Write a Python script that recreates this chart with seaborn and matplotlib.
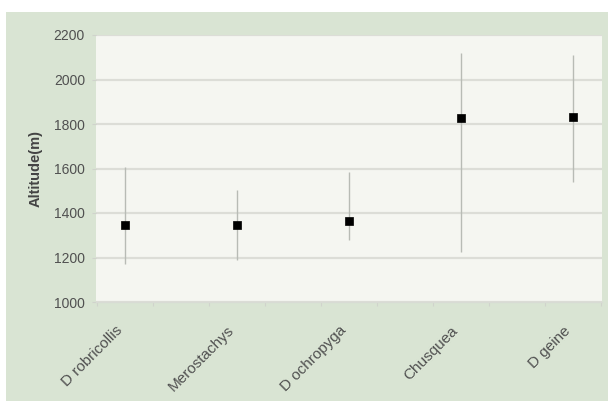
import matplotlib
matplotlib.use("Agg")
import matplotlib.pyplot as plt
import matplotlib.patches as mpatches
import seaborn as sns
import pandas as pd
import numpy as np

# Altitude ranges of the bamboo species and their mean altitude
species = ["D robricollis", "Merostachys", "D ochropyga", "Chusquea", "D geine"]
altitude_mean = [1345, 1345, 1365, 1825, 1830]
altitude_low = [1170, 1190, 1280, 1225, 1540]
altitude_high = [1605, 1505, 1585, 2120, 2110]
y_ticks = [1000, 1200, 1400, 1600, 1800, 2000, 2200]

df = pd.DataFrame({"species": species, "mean": altitude_mean,
                   "low": altitude_low, "high": altitude_high})

sns.set_theme(style="white")
plt.rcParams["font.family"] = ["Liberation Sans", "DejaVu Sans"]

W, H = 608, 401
fig = plt.figure(figsize=(W / 100, H / 100), dpi=100, facecolor="white")

# green chart panel behind the plot area
panel = mpatches.Rectangle((6 / W, 0), 1 - 6 / W, 1 - 12 / H,
                           transform=fig.transFigure, facecolor="#d9e4d3",
                           edgecolor="none", zorder=-10)
fig.patches.append(panel)

ax = fig.add_axes([96 / W, 99 / H, (602 - 96) / W, (302 - 35) / H])
ax.set_facecolor("#f5f6f1")

pos = np.arange(len(species))
ax.vlines(pos, df["low"], df["high"], color="#b8bbb5", linewidth=1.0, zorder=2)
sns.scatterplot(data=df, x="species", y="mean", marker="s", color="black",
                s=30, edgecolor="black", linewidth=0.5, ax=ax, zorder=3)

ax.set_ylim(1000, 2200)
ax.set_xlim(-0.26, 4.26)
ax.set_yticks(y_ticks)
ax.set_yticklabels([str(v) for v in y_ticks])
ax.yaxis.grid(True, color="#dcddd7", linewidth=1.6)
ax.set_axisbelow(True)

ax.set_xticks(pos)
ax.set_xticklabels(species, rotation=45, ha="right", va="center",
                   rotation_mode="anchor")
ax.set_xticks(np.arange(-0.25, 4.3, 0.5), minor=True)
ax.tick_params(axis="x", which="major", length=0, pad=19, labelsize=11,
               labelcolor="#505050")
ax.tick_params(axis="x", which="minor", length=3, width=0.8,
               color="#d0d3cc", direction="out", bottom=True)
ax.tick_params(axis="y", length=3, width=0.8, color="#d0d3cc", pad=5,
               labelsize=10, labelcolor="#505050", left=True)

for lbl in ax.get_xticklabels():
    lbl.set_transform(lbl.get_transform() +
                      matplotlib.transforms.ScaledTranslation(-5 / 100, 0, fig.dpi_scale_trans))

ax.set_xlabel("")
ax.set_ylabel("Altitude(m)", fontsize=10.5, fontweight="bold", color="#444444",
              labelpad=8)

for side in ["top", "right", "left"]:
    ax.spines[side].set_visible(False)
ax.spines["bottom"].set_color("#d8dbd4")
ax.spines["bottom"].set_linewidth(1.0)

fig.savefig("out.png", dpi=100, facecolor="white")
